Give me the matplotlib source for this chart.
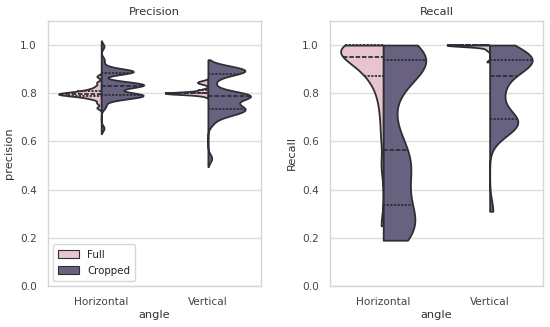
import numpy as np
import pandas as pd
import matplotlib
matplotlib.use("Agg")
import matplotlib.pyplot as plt
import seaborn as sns
from matplotlib.patches import Patch

categories = ["Horizontal", "Vertical"]
hue_levels = ["Full", "Cropped"]

# Precision observations
prec_h_full = [0.74, 0.76, 0.775, 0.78, 0.785, 0.788, 0.79, 0.792, 0.794, 0.795, 0.796, 0.797,
               0.798, 0.80, 0.80, 0.802, 0.805, 0.808, 0.81, 0.815, 0.82, 0.83, 0.845, 0.87]
prec_h_crop = [0.655, 0.74, 0.755,
               0.775, 0.78, 0.785, 0.787, 0.79, 0.79, 0.793, 0.795, 0.80,
               0.778, 0.783, 0.788, 0.79, 0.792, 0.794, 0.797, 0.80, 0.803,
               0.82, 0.825, 0.83, 0.832, 0.835, 0.835, 0.838, 0.84, 0.845,
               0.823, 0.828, 0.832, 0.834, 0.836, 0.837, 0.84, 0.843, 0.848,
               0.885, 0.888, 0.89, 0.89, 0.892, 0.895,
               0.884, 0.887, 0.889, 0.891, 0.894, 0.897,
               0.915, 0.94, 0.995]
prec_v_full = [0.79, 0.798, 0.799, 0.80, 0.80, 0.80, 0.80, 0.80, 0.801, 0.802,
               0.81, 0.815, 0.84, 0.845, 0.85]
prec_v_crop = [0.53, 0.675,
               0.70, 0.71, 0.715, 0.72, 0.725, 0.728, 0.73,
               0.732, 0.736, 0.74, 0.745, 0.75, 0.755, 0.76,
               0.775, 0.78, 0.785, 0.786, 0.788, 0.79, 0.79, 0.792, 0.794, 0.795, 0.80, 0.81,
               0.835, 0.855,
               0.88, 0.882, 0.884, 0.888, 0.892, 0.895, 0.898, 0.90, 0.902, 0.904, 0.905]

# Recall observations
rec_h_full = [0.25, 0.50, 0.62, 0.70, 0.76, 0.80, 0.83, 0.86, 0.87, 0.875, 0.89, 0.91,
              0.92, 0.93, 0.935, 0.94, 0.945, 0.95, 0.955, 0.96, 0.97, 0.975, 0.98,
              0.985, 0.99] + [1.0] * 10
rec_h_crop = [0.19, 0.20, 0.215, 0.235, 0.255, 0.275, 0.285, 0.30,
              0.35, 0.39, 0.43, 0.46, 0.49, 0.51, 0.53, 0.55,
              0.58, 0.63, 0.70, 0.79, 0.86, 0.89, 0.91, 0.935,
              0.94, 0.94, 0.945, 0.95, 0.955, 0.96, 0.975, 1.0]
rec_v_full = [0.93, 0.98, 0.99, 0.995] + [1.0] * 14
rec_v_crop = [0.31, 0.62, 0.645, 0.66, 0.67, 0.675, 0.68, 0.685,
              0.695, 0.70, 0.72, 0.77, 0.79, 0.81, 0.84, 0.865,
              0.88, 0.90, 0.915, 0.92, 0.925, 0.93, 0.935, 0.938,
              0.94, 0.945, 0.95, 0.96, 0.97, 0.99, 1.0, 1.0]


def make_df(hf, hc, vf, vc, col):
    rows = []
    for vals, ang, typ in [(hf, "Horizontal", "Full"), (hc, "Horizontal", "Cropped"),
                           (vf, "Vertical", "Full"), (vc, "Vertical", "Cropped")]:
        for v in vals:
            rows.append({"angle": ang, "type": typ, col: v})
    return pd.DataFrame(rows)


df_p = make_df(prec_h_full, prec_h_crop, prec_v_full, prec_v_crop, "precision")
df_r = make_df(rec_h_full, rec_h_crop, rec_v_full, rec_v_crop, "Recall")

sns.set_theme(style="whitegrid")
plt.rcParams["font.family"] = ["DejaVu Sans"]

palette = {"Full": "#e8c4ce", "Cropped": "#68617f"}
edge = "#2e2e36"

fig = plt.figure(figsize=(5.5, 3.27), dpi=100)
ax1 = fig.add_axes([0.087, 0.1254, 0.388, 0.8104])
ax2 = fig.add_axes([0.600, 0.1254, 0.387, 0.8104])

common = dict(x="angle", hue="type", split=True, inner="quart", order=categories,
              hue_order=hue_levels, palette=palette, saturation=1, linewidth=1.3,
              density_norm="width", linecolor=edge, width=0.8)

sns.violinplot(data=df_p, y="precision", ax=ax1, cut=2, bw_adjust=0.45, **common)
sns.violinplot(data=df_r, y="Recall", ax=ax2, cut=0, bw_adjust=0.6, **common)

for ax, title in [(ax1, "Precision"), (ax2, "Recall")]:
    ax.set_ylim(0, 1.1)
    ax.set_yticks([0.0, 0.2, 0.4, 0.6, 0.8, 1.0])
    ax.set_title(title, fontsize=8.2, color="#333333", pad=4)
    ax.set_xlabel("angle", fontsize=8.2, color="#333333", labelpad=2)
    ax.tick_params(labelsize=7.6, colors="#444444", pad=2)
    ax.grid(axis="y", color="#dddddd", linewidth=1.0)
    for s in ax.spines.values():
        s.set_color("#d5d5d5")
        s.set_linewidth(1.0)
    if ax.get_legend() is not None:
        ax.get_legend().remove()

ax1.set_ylabel("precision", fontsize=8.2, color="#333333", labelpad=4)
ax2.set_ylabel("Recall", fontsize=8.2, color="#333333", labelpad=4)

handles = [Patch(facecolor=palette[h], edgecolor=edge, linewidth=0.8) for h in hue_levels]
ax1.legend(handles, hue_levels, loc="lower left", fontsize=7.4, frameon=True,
           handlelength=2.0, handleheight=0.9, borderpad=0.5, labelspacing=0.6)

fig.savefig("out.png", dpi=100)
